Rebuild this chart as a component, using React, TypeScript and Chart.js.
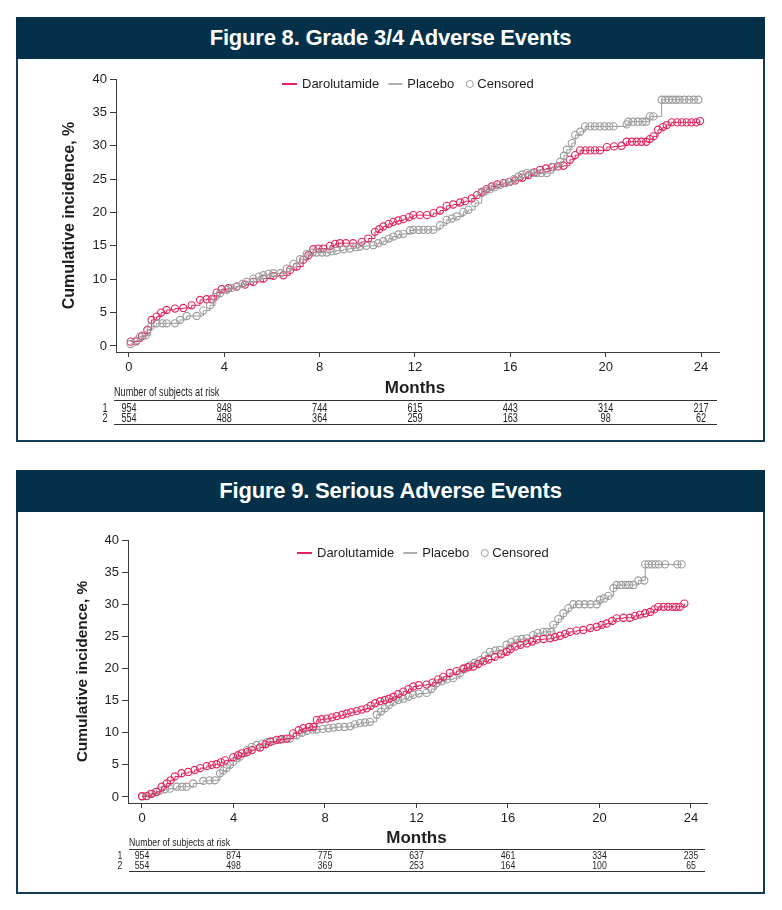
import { useEffect, useRef } from 'react';
import { Chart, registerables } from 'chart.js';

Chart.register(...registerables);

const FONT = '"Liberation Sans", Arial, Helvetica, sans-serif';
const PINK = '#e5245e';
const GRAY = '#9b9b9b';
const AXIS = '#3a3a3a';
const NAVY = '#04304a';
const BORDER = '#123d55';

const MONTH_TICKS = [0, 4, 8, 12, 16, 20, 24];
const INCIDENCE_TICKS = [0, 5, 10, 15, 20, 25, 30, 35, 40];
const LEGEND_LABELS = ['Darolutamide', 'Placebo', 'Censored'];
const RISK_ROW_LABELS = ['1', '2'];

// Figure 8 – Grade 3/4 adverse events
const F8_DARO_MONTHS = [0.07, 0.3, 0.55, 0.77, 0.95, 1.16, 1.35, 1.58, 1.93, 2.28, 2.63, 2.98, 3.26, 3.47, 3.68, 3.89, 4.17, 4.52, 4.87, 5.22, 5.64, 6.06, 6.48, 6.76, 7.04, 7.31, 7.53, 7.73, 7.95, 8.15, 8.43, 8.65, 8.85, 9.1, 9.4, 9.76, 10.04, 10.32, 10.5, 10.67, 10.9, 11.09, 11.3, 11.51, 11.75, 11.93, 12.2, 12.5, 12.77, 13.05, 13.33, 13.6, 13.89, 14.1, 14.38, 14.6, 14.8, 15.0, 15.22, 15.45, 15.71, 15.95, 16.2, 16.5, 16.76, 17.0, 17.25, 17.5, 17.74, 18.0, 18.23, 18.5, 18.72, 18.93, 19.15, 19.35, 19.55, 19.76, 20.05, 20.35, 20.67, 20.88, 21.1, 21.3, 21.5, 21.7, 21.85, 22.0, 22.2, 22.4, 22.56, 22.77, 23.0, 23.2, 23.4, 23.6, 23.8, 23.96];
const F8_DARO_PCT = [0.65, 0.7, 1.5, 2.4, 3.9, 4.4, 5.0, 5.4, 5.6, 5.7, 6.1, 6.9, 7.0, 7.0, 8.0, 8.5, 8.65, 8.9, 9.2, 9.6, 10.1, 10.5, 10.6, 11.4, 11.9, 12.9, 13.6, 14.5, 14.6, 14.6, 15.0, 15.3, 15.4, 15.4, 15.4, 15.6, 16.1, 17.1, 17.5, 17.9, 18.3, 18.6, 18.8, 19.0, 19.3, 19.6, 19.6, 19.6, 19.9, 20.3, 21.0, 21.2, 21.5, 21.7, 22.1, 22.6, 23.1, 23.5, 23.9, 24.2, 24.4, 24.6, 24.8, 25.2, 25.6, 26.0, 26.4, 26.6, 26.8, 26.9, 27.0, 27.9, 28.6, 29.3, 29.3, 29.3, 29.3, 29.3, 29.8, 29.9, 30.0, 30.6, 30.6, 30.6, 30.6, 30.6, 31.0, 31.4, 32.4, 32.8, 33.1, 33.5, 33.5, 33.5, 33.5, 33.5, 33.5, 33.7];
const F8_PLAC_MONTHS = [0.07, 0.3, 0.46, 0.7, 0.91, 1.16, 1.4, 1.58, 1.93, 2.14, 2.42, 2.84, 3.12, 3.4, 3.61, 3.82, 4.1, 4.3, 4.52, 4.75, 4.94, 5.22, 5.45, 5.64, 5.85, 6.06, 6.34, 6.62, 6.9, 7.18, 7.46, 7.7, 7.88, 8.1, 8.3, 8.5, 8.71, 9.0, 9.27, 9.5, 9.69, 9.95, 10.25, 10.45, 10.67, 10.9, 11.09, 11.3, 11.51, 11.79, 11.93, 12.15, 12.35, 12.55, 12.77, 13.05, 13.33, 13.55, 13.75, 14.03, 14.24, 14.52, 14.8, 14.95, 15.15, 15.35, 15.57, 15.8, 15.99, 16.15, 16.34, 16.5, 16.69, 16.9, 17.1, 17.3, 17.53, 17.81, 18.09, 18.25, 18.37, 18.58, 18.72, 18.93, 19.14, 19.35, 19.55, 19.75, 19.95, 20.15, 20.33, 20.88, 20.95, 21.15, 21.35, 21.55, 21.7, 21.85, 22.0, 22.35, 22.5, 22.65, 22.8, 22.95, 23.1, 23.3, 23.5, 23.7, 23.89];
const F8_PLAC_PCT = [0.3, 0.8, 1.4, 1.6, 2.9, 3.4, 3.4, 3.4, 3.4, 3.9, 4.5, 4.5, 5.3, 6.1, 7.3, 7.9, 8.4, 8.7, 8.9, 9.3, 9.6, 10.1, 10.4, 10.6, 10.8, 10.9, 10.9, 11.6, 12.3, 13.0, 13.8, 14.0, 14.0, 14.0, 14.0, 14.2, 14.3, 14.5, 14.6, 14.8, 14.9, 15.0, 15.1, 15.4, 15.7, 16.1, 16.4, 16.7, 16.8, 17.3, 17.4, 17.4, 17.4, 17.4, 17.4, 18.1, 18.9, 19.1, 19.4, 20.1, 20.4, 21.4, 22.9, 23.2, 23.5, 23.8, 24.1, 24.4, 24.6, 25.0, 25.4, 25.7, 25.9, 25.9, 25.9, 25.9, 25.9, 26.8, 27.6, 28.5, 29.4, 30.4, 31.6, 32.1, 32.9, 32.9, 32.9, 32.9, 32.9, 32.9, 32.9, 33.2, 33.6, 33.6, 33.6, 33.6, 33.6, 34.4, 34.4, 36.9, 36.9, 36.9, 36.9, 36.9, 36.9, 36.9, 36.9, 36.9, 36.9];
const F8_RISK_DARO = [954, 848, 744, 615, 443, 314, 217];
const F8_RISK_PLAC = [554, 488, 364, 259, 163, 98, 62];

// Figure 9 – Serious adverse events
const F9_DARO_MONTHS = [0.0, 0.2, 0.42, 0.64, 0.86, 1.08, 1.25, 1.44, 1.73, 2.02, 2.3, 2.54, 2.83, 3.05, 3.26, 3.45, 3.63, 3.99, 4.2, 4.36, 4.6, 4.8, 5.16, 5.4, 5.6, 5.89, 6.1, 6.33, 6.61, 6.85, 7.05, 7.3, 7.49, 7.64, 7.85, 8.08, 8.3, 8.51, 8.75, 8.95, 9.15, 9.39, 9.6, 9.82, 10.0, 10.19, 10.4, 10.62, 10.8, 10.99, 11.2, 11.42, 11.65, 11.86, 12.1, 12.44, 12.7, 12.95, 13.17, 13.46, 13.75, 14.05, 14.25, 14.48, 14.7, 14.92, 15.15, 15.43, 15.7, 15.94, 16.1, 16.31, 16.55, 16.82, 17.05, 17.26, 17.55, 17.84, 18.05, 18.27, 18.5, 18.71, 19.0, 19.29, 19.6, 19.88, 20.1, 20.31, 20.55, 20.75, 21.05, 21.33, 21.55, 21.77, 22.0, 22.21, 22.4, 22.57, 22.8, 23.0, 23.2, 23.35, 23.52, 23.71];
const F9_DARO_PCT = [0.15, 0.15, 0.5, 0.8, 1.6, 2.1, 2.6, 3.2, 3.7, 3.9, 4.2, 4.5, 4.8, 5.0, 5.1, 5.4, 5.7, 6.2, 6.5, 6.8, 7.0, 7.3, 7.7, 8.2, 8.6, 8.9, 9.0, 9.1, 9.9, 10.4, 10.7, 10.9, 10.9, 12.0, 12.1, 12.2, 12.4, 12.6, 12.8, 13.0, 13.2, 13.4, 13.6, 13.8, 14.2, 14.6, 14.9, 15.1, 15.3, 15.6, 16.0, 16.4, 16.8, 17.2, 17.4, 17.5, 17.8, 18.3, 18.7, 19.3, 19.6, 20.0, 20.2, 20.3, 20.7, 21.1, 21.4, 21.8, 22.2, 22.6, 23.0, 23.4, 23.7, 23.9, 24.2, 24.5, 24.6, 24.7, 24.9, 25.1, 25.4, 25.7, 25.9, 26.0, 26.3, 26.5, 26.8, 27.0, 27.4, 27.8, 27.9, 27.9, 28.2, 28.4, 28.6, 28.8, 29.2, 29.6, 29.6, 29.6, 29.6, 29.6, 29.6, 30.1];
const F9_PLAC_MONTHS = [0.0, 0.35, 0.6, 0.79, 1.0, 1.22, 1.52, 1.75, 1.95, 2.24, 2.68, 2.95, 3.19, 3.41, 3.55, 3.7, 3.85, 3.99, 4.28, 4.58, 4.8, 5.01, 5.25, 5.45, 5.75, 6.03, 6.25, 6.47, 6.76, 7.0, 7.2, 7.45, 7.64, 7.9, 8.15, 8.37, 8.6, 8.85, 9.1, 9.3, 9.53, 9.75, 9.97, 10.26, 10.45, 10.62, 10.8, 10.99, 11.2, 11.42, 11.65, 11.86, 12.1, 12.44, 12.65, 12.88, 13.1, 13.32, 13.6, 13.9, 14.1, 14.34, 14.55, 14.78, 15.0, 15.21, 15.45, 15.65, 15.94, 16.15, 16.38, 16.6, 16.82, 17.1, 17.3, 17.54, 17.7, 17.9, 17.98, 18.2, 18.42, 18.64, 18.86, 19.1, 19.35, 19.6, 19.88, 20.02, 20.2, 20.39, 20.61, 20.75, 20.95, 21.15, 21.3, 21.48, 21.7, 21.96, 22.0, 22.15, 22.3, 22.45, 22.6, 22.86, 23.4, 23.59];
const F9_PLAC_PCT = [0.05, 0.45, 0.8, 1.0, 1.2, 1.3, 1.6, 1.6, 1.6, 2.1, 2.5, 2.6, 2.6, 3.7, 4.1, 4.5, 5.0, 5.5, 6.3, 7.3, 7.8, 8.1, 8.3, 8.5, 8.7, 8.9, 9.0, 9.1, 9.6, 10.0, 10.3, 10.5, 10.5, 10.6, 10.7, 10.8, 10.9, 10.9, 11.0, 11.3, 11.5, 11.6, 11.7, 12.8, 13.3, 13.8, 14.3, 14.8, 15.1, 15.3, 15.6, 15.9, 16.1, 16.2, 16.8, 17.7, 18.0, 18.3, 18.5, 19.3, 19.9, 20.5, 20.9, 21.3, 22.0, 22.6, 22.8, 22.9, 23.7, 24.1, 24.5, 24.6, 24.7, 25.2, 25.5, 25.7, 25.7, 25.7, 26.8, 27.7, 28.6, 29.4, 30.0, 30.0, 30.0, 30.0, 30.0, 30.7, 30.9, 31.3, 32.5, 33.0, 33.0, 33.0, 33.0, 33.0, 33.7, 33.7, 36.2, 36.2, 36.2, 36.2, 36.2, 36.2, 36.2, 36.2];
const F9_RISK_DARO = [954, 874, 775, 637, 461, 334, 235];
const F9_RISK_PLAC = [554, 498, 369, 253, 164, 100, 65];

type Fig = {
  title: string;
  daroMonths: number[]; daroPct: number[];
  placMonths: number[]; placPct: number[];
  riskDaro: number[]; riskPlac: number[];
  boxTop: number; boxHeight: number; headerH: number;
  yAxisWidth: number; xAxisHeight: number; padTop: number; padRight: number;
  xMin: number; xMax: number; yMin: number;
  legendX: number; legendDy: number;
  yTitleX: number; yTitleSize: number;
  monthsDy: number;
  tableHeadDy: number; line1Dy: number; row1Dy: number; row2Dy: number; line2Dy: number;
  rowLabelDx: number; headDx: number; riskFont: number;
  placeboOnTop: boolean;
};

const FIG8: Fig = {
  title: 'Figure 8. Grade 3/4 Adverse Events',
  daroMonths: F8_DARO_MONTHS, daroPct: F8_DARO_PCT,
  placMonths: F8_PLAC_MONTHS, placPct: F8_PLAC_PCT,
  riskDaro: F8_RISK_DARO, riskPlac: F8_RISK_PLAC,
  boxTop: 17, boxHeight: 425, headerH: 42,
  yAxisWidth: 100, xAxisHeight: 90, padTop: 20, padRight: 46,
  xMin: -0.545, xMax: 24.755, yMin: -0.9,
  legendX: 166, legendDy: 5,
  yTitleX: 54, yTitleSize: 16,
  monthsDy: 35,
  tableHeadDy: 41, line1Dy: 48, row1Dy: 57, row2Dy: 67, line2Dy: 72,
  rowLabelDx: -11, headDx: -2, riskFont: 12,
  placeboOnTop: true,
};

const FIG9: Fig = {
  title: 'Figure 9. Serious Adverse Events',
  daroMonths: F9_DARO_MONTHS, daroPct: F9_DARO_PCT,
  placMonths: F9_PLAC_MONTHS, placPct: F9_PLAC_PCT,
  riskDaro: F9_RISK_DARO, riskPlac: F9_RISK_PLAC,
  boxTop: 470, boxHeight: 424, headerH: 42,
  yAxisWidth: 112, xAxisHeight: 91, padTop: 28, padRight: 58,
  xMin: -0.612, xMax: 24.7, yMin: -0.934,
  legendX: 169, legendDy: 13,
  yTitleX: 67, yTitleSize: 15.5,
  monthsDy: 34,
  tableHeadDy: 40, line1Dy: 46, row1Dy: 53, row2Dy: 63, line2Dy: 68,
  rowLabelDx: -8, headDx: 1, riskFont: 11.5,
  placeboOnTop: false,
};

function narrowText(ctx: CanvasRenderingContext2D, text: string, x: number, y: number) {
  ctx.save();
  ctx.translate(x, y);
  ctx.scale(0.76, 1);
  ctx.fillText(text, 0, 0);
  ctx.restore();
}

function makeExtras(fig: Fig) {
  return {
    id: 'kmExtras',
    afterDraw(chart: any) {
      const { ctx, chartArea: a } = chart;
      const xs = chart.scales.x;
      ctx.save();
      ctx.fillStyle = '#1e1e1e';
      ctx.textBaseline = 'middle';

      // legend
      const ly = a.top + fig.legendDy;
      let lx = a.left + fig.legendX;
      ctx.font = `13px ${FONT}`;
      ctx.textAlign = 'left';
      ctx.lineWidth = 2;
      ctx.strokeStyle = PINK;
      ctx.beginPath(); ctx.moveTo(lx, ly); ctx.lineTo(lx + 15, ly); ctx.stroke();
      lx += 20;
      ctx.fillText(LEGEND_LABELS[0], lx, ly);
      lx += ctx.measureText(LEGEND_LABELS[0]).width + 9;
      ctx.strokeStyle = GRAY;
      ctx.lineWidth = 1.6;
      ctx.beginPath(); ctx.moveTo(lx, ly); ctx.lineTo(lx + 14, ly); ctx.stroke();
      lx += 19;
      ctx.fillText(LEGEND_LABELS[1], lx, ly);
      lx += ctx.measureText(LEGEND_LABELS[1]).width + 12;
      ctx.lineWidth = 1;
      ctx.beginPath(); ctx.arc(lx + 3.5, ly, 3.5, 0, Math.PI * 2); ctx.stroke();
      lx += 11;
      ctx.fillText(LEGEND_LABELS[2], lx, ly);

      // y axis title
      ctx.save();
      ctx.translate(fig.yTitleX, (a.top + a.bottom) / 2);
      ctx.rotate(-Math.PI / 2);
      ctx.textAlign = 'center';
      ctx.font = `bold ${fig.yTitleSize}px ${FONT}`;
      ctx.fillText('Cumulative incidence, %', 0, 0);
      ctx.restore();

      // x axis title
      const x0 = xs.getPixelForValue(MONTH_TICKS[0]);
      const x1 = xs.getPixelForValue(MONTH_TICKS[MONTH_TICKS.length - 1]);
      ctx.textAlign = 'center';
      ctx.font = `bold 17px ${FONT}`;
      ctx.fillText('Months', (x0 + x1) / 2, a.bottom + 1 + fig.monthsDy);

      // number at risk table
      const b = a.bottom;
      ctx.font = `${fig.riskFont}px ${FONT}`;
      ctx.textAlign = 'left';
      narrowText(ctx, 'Number of subjects at risk', a.left + fig.headDx, b + fig.tableHeadDy);
      ctx.strokeStyle = '#333';
      ctx.lineWidth = 1;
      ctx.beginPath();
      ctx.moveTo(a.left + fig.headDx, b + fig.line1Dy + 0.5);
      ctx.lineTo(a.right - 2, b + fig.line1Dy + 0.5);
      ctx.moveTo(a.left + fig.headDx, b + fig.line2Dy + 0.5);
      ctx.lineTo(a.right - 2, b + fig.line2Dy + 0.5);
      ctx.stroke();
      ctx.textAlign = 'center';
      narrowText(ctx, RISK_ROW_LABELS[0], a.left + fig.rowLabelDx, b + fig.row1Dy);
      narrowText(ctx, RISK_ROW_LABELS[1], a.left + fig.rowLabelDx, b + fig.row2Dy);
      MONTH_TICKS.forEach((m, i) => {
        const px = xs.getPixelForValue(m);
        narrowText(ctx, String(fig.riskDaro[i]), px, b + fig.row1Dy);
        narrowText(ctx, String(fig.riskPlac[i]), px, b + fig.row2Dy);
      });
      ctx.restore();
    },
  };
}

function pts(months: number[], pct: number[]) {
  return months.map((m, i) => ({ x: m, y: pct[i] }));
}

function series(label: string, color: string, months: number[], pct: number[], order: number) {
  return {
    label,
    data: pts(months, pct),
    borderColor: color,
    borderWidth: 1,
    stepped: true,
    fill: false,
    tension: 0,
    pointStyle: 'circle',
    pointRadius: 3.6,
    pointBorderWidth: 1.1,
    pointBorderColor: color,
    pointBackgroundColor: 'rgba(255,255,255,0)',
    order,
  };
}

function Figure({ fig }: { fig: Fig }) {
  const ref = useRef<HTMLCanvasElement | null>(null);
  const canvasH = fig.boxHeight - fig.headerH;

  useEffect(() => {
    if (!ref.current) return;
    const tickFont = { family: FONT, size: 13 };
    const chart = new Chart(ref.current, {
      type: 'line',
      data: {
        datasets: [
          series('Darolutamide', PINK, fig.daroMonths, fig.daroPct, fig.placeboOnTop ? 2 : 1) as any,
          series('Placebo', GRAY, fig.placMonths, fig.placPct, fig.placeboOnTop ? 1 : 2) as any,
        ],
      },
      options: {
        animation: false,
        responsive: false,
        events: [],
        layout: { padding: { top: fig.padTop, right: fig.padRight, left: 0, bottom: 0 } },
        plugins: { legend: { display: false }, tooltip: { enabled: false }, title: { display: false } },
        scales: {
          x: {
            type: 'linear',
            min: fig.xMin,
            max: fig.xMax,
            afterBuildTicks: (s: any) => { s.ticks = MONTH_TICKS.map((v) => ({ value: v })); },
            afterFit: (s: any) => { s.height = fig.xAxisHeight; },
            grid: { display: true, drawOnChartArea: false, drawTicks: true, tickLength: 5, color: AXIS, lineWidth: 1 },
            border: { display: true, color: AXIS, width: 1 },
            ticks: { color: '#1e1e1e', font: tickFont, padding: 3, maxRotation: 0, autoSkip: false, callback: (v: any) => String(v) },
          },
          y: {
            type: 'linear',
            min: fig.yMin,
            max: 40,
            afterBuildTicks: (s: any) => { s.ticks = INCIDENCE_TICKS.map((v) => ({ value: v })); },
            afterFit: (s: any) => { s.width = fig.yAxisWidth; },
            grid: { display: true, drawOnChartArea: false, drawTicks: true, tickLength: 6, color: AXIS, lineWidth: 1 },
            border: { display: true, color: AXIS, width: 1 },
            ticks: { color: '#1e1e1e', font: tickFont, padding: 3, autoSkip: false, callback: (v: any) => String(v) },
          },
        },
      } as any,
      plugins: [makeExtras(fig)],
    });
    return () => chart.destroy();
  }, [fig]);

  return (
    <>
      <div
        style={{
          position: 'absolute', left: 16, top: fig.boxTop, width: 749, height: fig.boxHeight,
          boxSizing: 'border-box', border: `2px solid ${BORDER}`, background: '#fff',
        }}
      />
      <div
        style={{
          position: 'absolute', left: 16, top: fig.boxTop, width: 749, height: fig.headerH,
          background: NAVY, color: '#fff', display: 'flex', alignItems: 'center', justifyContent: 'center',
          font: `bold 22px ${FONT}`, letterSpacing: '-0.2px',
        }}
      >
        {fig.title}
      </div>
      <canvas
        ref={ref}
        width={749}
        height={canvasH}
        style={{ position: 'absolute', left: 16, top: fig.boxTop + fig.headerH, width: 749, height: canvasH }}
      />
    </>
  );
}

export default function App() {
  return (
    <div style={{ position: 'absolute', left: 0, top: 0, width: 782, height: 910, background: '#fff', overflow: 'hidden' }}>
      <Figure fig={FIG8} />
      <Figure fig={FIG9} />
    </div>
  );
}
